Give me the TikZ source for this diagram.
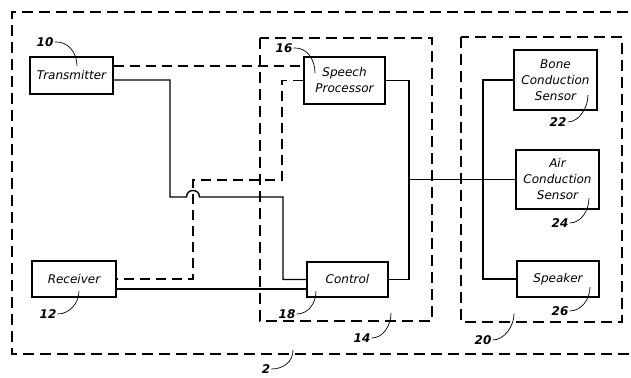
\documentclass[tikz,border=0pt]{standalone}
\usepackage{fontspec}
\setmainfont{DejaVu Sans}
\begin{document}
\begin{tikzpicture}[x=1pt,y=-1pt,
  blk/.style={draw,line width=1.5pt,align=center,font=\itshape\fontsize{12}{16}\selectfont,inner sep=0pt},
  num/.style={font=\bfseries\itshape\fontsize{12}{14}\selectfont,inner sep=1pt},
  wire/.style={line width=1.4pt},
  dwire/.style={line width=1.4pt,dash pattern=on 10pt off 6pt},
  grp/.style={line width=1.4pt,dash pattern=on 11pt off 6pt},
  lead/.style={line width=0.7pt}]
\useasboundingbox (0,0) rectangle (631,377);
% group boxes
\draw[grp] (645,12) -- (12,12) -- (12,354) -- (645,354);
\draw[grp] (260,38) rectangle (432,321);
\draw[grp] (461,37) rectangle (622,322);
% blocks
\node[blk,minimum width=83pt,minimum height=37pt] (tx) at (71.5,75.5) {Transmitter};
\node[blk,minimum width=84pt,minimum height=36pt] (rx) at (74,279) {Receiver};
\node[blk,minimum width=81pt,minimum height=47pt] (sp) at (344.5,80.5) {Speech\\Processor};
\node[blk,minimum width=81pt,minimum height=35pt] (ctl) at (347.5,279.5) {Control};
\node[blk,minimum width=83pt,minimum height=60pt] (bone) at (555.5,80) {Bone\\Conduction\\Sensor};
\node[blk,minimum width=83pt,minimum height=59pt] (air) at (557.5,179.5) {Air\\Conduction\\Sensor};
\node[blk,minimum width=82pt,minimum height=36pt] (spk) at (558,279) {Speaker};
% connectors
\draw[dwire] ([yshift=9.5pt]tx.east) -- ([yshift=9.5pt]tx.east -| sp.west);
\draw[wire] ([yshift=-4.5pt]tx.east) -| (170,197) -- (186.5,197)
  .. controls (186.5,188.3) and (199.5,188.3) .. (199.5,197) -- (283,197) |- (ctl.west);
\draw[dwire] (sp.west) -- (282,80.5) |- (193,180) |- (rx.east);
\draw[wire] ([yshift=-10pt]rx.east) -- ([yshift=-10pt]rx.east -| ctl.west);
\coordinate (j) at (409,179.5);
\draw[wire] (sp.east) -| (j) |- (ctl.east);
\draw[wire] (j) -- (air.west);
\draw[wire] (bone.west) -| (483,180) |- (spk.west);
% reference numerals
\node[num] (n10) at (45,42) {10};
\node[num] (n16) at (284,48) {16};
\node[num] (n12) at (48,314) {12};
\node[num] (n18) at (287,314) {18};
\node[num] (n14) at (362,338) {14};
\node[num] (n20) at (483,340) {20};
\node[num] (n22) at (558,122) {22};
\node[num] (n24) at (560,223) {24};
\node[num] (n26) at (560,311) {26};
\node[num] (n2) at (266,369) {2};
\coordinate (e10) at (77,66);
\coordinate (e16) at (315,73);
\coordinate (e12) at (79,291);
\coordinate (e18) at (316,291);
\coordinate (e14) at (391,313);
\coordinate (e20) at (514,314);
\coordinate (e22) at (588,95);
\coordinate (e24) at (589,198);
\coordinate (e26) at (590,287);
\coordinate (e2) at (293,350);
\draw[lead] (n10.east) .. controls +(13,-1) and +(0,-14) .. (e10);
\draw[lead] (n16.east) .. controls +(13,-1) and +(0,-14) .. (e16);
\draw[lead] (n12.east) .. controls +(12,0) and +(0,12) .. (e12);
\draw[lead] (n18.east) .. controls +(12,0) and +(0,12) .. (e18);
\draw[lead] (n14.east) .. controls +(12,0) and +(0,12) .. (e14);
\draw[lead] (n20.east) .. controls +(12,0) and +(0,12) .. (e20);
\draw[lead] (n22.east) .. controls +(12,0) and +(0,12) .. (e22);
\draw[lead] (n24.east) .. controls +(12,0) and +(0,12) .. (e24);
\draw[lead] (n26.east) .. controls +(12,0) and +(0,12) .. (e26);
\draw[lead] (n2.east) .. controls +(12,0) and +(0,12) .. (e2);
\end{tikzpicture}
\end{document}
